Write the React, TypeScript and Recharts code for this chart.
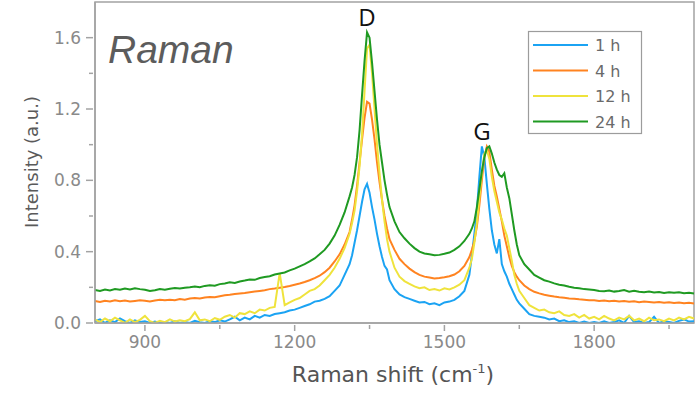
import { LineChart, Line, XAxis, YAxis, ReferenceArea } from "recharts";

// Raman shift sampling (cm-1); denser around the D and G bands
const ramanShift = [
  800, 810, 820, 830, 840, 850, 860, 870, 880, 890,
  900, 910, 920, 930, 940, 950, 960, 970, 980, 990,
  1000, 1010, 1020, 1030, 1040, 1050, 1060, 1070, 1080, 1090,
  1100, 1110, 1120, 1130, 1140, 1150, 1160, 1170, 1180, 1190,
  1200, 1210, 1220, 1230, 1240, 1250, 1260, 1270, 1280, 1290,
  1300, 1310,
  1315, 1320, 1325, 1330, 1335, 1340, 1345, 1350, 1355, 1360, 1365, 1370, 1375, 1380, 1385,
  1390, 1400, 1410, 1420, 1430, 1440, 1450, 1460, 1470, 1480, 1490, 1500, 1510, 1520, 1530, 1540, 1550,
  1555, 1560, 1565, 1570, 1575, 1580, 1585, 1590, 1595, 1600,
  1605, 1610, 1615, 1620, 1625, 1630, 1635, 1640, 1645, 1650,
  1660, 1670, 1680, 1690, 1700, 1710, 1720, 1730, 1740, 1750,
  1760, 1770, 1780, 1790, 1800, 1810, 1820, 1830, 1840, 1850,
  1860, 1870, 1880, 1890, 1900, 1910, 1920, 1930, 1940, 1950,
  1960, 1970, 1980, 1990, 2000,
];

const h1 = [
  0.01, 0.02, 0, 0.015, 0.005, 0.025, 0.01, 0, 0.015, 0.005,
  0.01, 0, 0.008, 0, 0.005, 0, 0.01, 0, 0.006, 0,
  0.012, 0.004, 0, 0.01, 0.005, 0.015, 0.008, 0.02, 0.035, 0.015,
  0.03, 0.02, 0.04, 0.03, 0.045, 0.04, 0.05, 0.055, 0.06, 0.07,
  0.075, 0.085, 0.095, 0.105, 0.12, 0.125, 0.135, 0.15, 0.18, 0.21,
  0.27, 0.33,
  0.38, 0.45, 0.52, 0.6, 0.68, 0.75, 0.78, 0.73, 0.65, 0.58, 0.5, 0.43, 0.37, 0.32, 0.3,
  0.24, 0.19, 0.16, 0.145, 0.135, 0.125, 0.115, 0.118, 0.105, 0.11, 0.1, 0.115, 0.12, 0.13, 0.15, 0.18, 0.27,
  0.38, 0.5, 0.63, 0.82, 0.99, 0.93, 0.78, 0.64, 0.52, 0.44,
  0.39, 0.47, 0.33, 0.29, 0.26, 0.22, 0.19, 0.16, 0.13, 0.11,
  0.08, 0.05, 0.04, 0.035, 0.03, 0.02, 0.025, 0.01, 0.015, 0.005,
  0.01, 0, 0.008, 0, 0.005, 0, 0.01, 0, 0.005, 0.015,
  0, 0.04, 0.005, 0.01, 0, 0.005, 0.035, 0, 0.01, 0.005,
  0, 0.012, 0.02, 0.008, 0.01,
];

const h4 = [
  0.123, 0.118, 0.125, 0.121, 0.127, 0.122, 0.126, 0.12, 0.124, 0.128,
  0.125, 0.121, 0.126, 0.13, 0.127, 0.131, 0.128, 0.134, 0.131, 0.137,
  0.14, 0.137, 0.143, 0.146, 0.144, 0.15, 0.155, 0.158, 0.162, 0.165,
  0.168, 0.172, 0.176, 0.18, 0.184, 0.19, 0.193, 0.198, 0.202, 0.208,
  0.215, 0.222, 0.23, 0.24, 0.252, 0.265, 0.285, 0.31, 0.345, 0.385,
  0.44, 0.51,
  0.58, 0.66, 0.77, 0.9, 1.03, 1.15, 1.24, 1.23, 1.14, 1.03, 0.9, 0.79, 0.69, 0.6, 0.53,
  0.47, 0.41, 0.36, 0.33, 0.305, 0.285, 0.27, 0.26, 0.255, 0.25, 0.252, 0.256, 0.262, 0.272, 0.29, 0.32, 0.37,
  0.41, 0.46, 0.54, 0.66, 0.8, 0.93, 0.99, 0.96, 0.86, 0.77,
  0.71, 0.64, 0.57, 0.49, 0.43, 0.37, 0.32, 0.285, 0.26, 0.24,
  0.21, 0.19, 0.175, 0.166, 0.158, 0.153, 0.148, 0.144, 0.141, 0.138,
  0.136, 0.133, 0.131, 0.128, 0.127, 0.124, 0.126, 0.122, 0.125, 0.12,
  0.123, 0.119, 0.122, 0.117, 0.12, 0.118, 0.115, 0.118, 0.114, 0.116,
  0.112, 0.115, 0.111, 0.113, 0.11,
];

const h12 = [
  0.02, 0.005, 0.025, 0.01, 0.03, 0.015, 0, 0.02, 0.005, 0.018,
  0.04, 0.01, 0, 0.012, 0.005, 0.02, 0.008, 0.015, 0.01, 0.022,
  0.06, 0.015, 0.02, 0.01, 0.028, 0.018, 0.035, 0.045, 0.03, 0.055,
  0.05, 0.065, 0.055, 0.075, 0.07, 0.085, 0.09, 0.28, 0.1, 0.115,
  0.13, 0.14, 0.16, 0.18, 0.19, 0.21, 0.24, 0.27, 0.31, 0.36,
  0.42, 0.5,
  0.56, 0.63, 0.74, 0.88, 1.06, 1.3, 1.54, 1.56, 1.4, 1.2, 1.0, 0.84, 0.69, 0.57, 0.47,
  0.4, 0.31, 0.26, 0.235, 0.22, 0.205, 0.195, 0.2, 0.185, 0.19, 0.182, 0.195, 0.188, 0.2, 0.215, 0.24, 0.31,
  0.36, 0.45, 0.56, 0.7, 0.84, 0.95, 0.97, 0.92, 0.82, 0.74,
  0.68, 0.62, 0.58, 0.53, 0.49, 0.42, 0.35, 0.27, 0.22, 0.18,
  0.14, 0.1, 0.085, 0.07, 0.075, 0.06, 0.055, 0.065, 0.045, 0.04,
  0.05, 0.03, 0.045, 0.025, 0.035, 0.02, 0.04, 0.025, 0.015, 0.03,
  0.02, 0.04, 0.015, 0.025, 0.01, 0.03, 0.015, 0.02, 0.01, 0.025,
  0.015, 0.03, 0.02, 0.035, 0.025,
];

const h24 = [
  0.185, 0.18, 0.188, 0.183, 0.19, 0.186, 0.193, 0.188, 0.195, 0.19,
  0.186, 0.18, 0.184, 0.19, 0.187, 0.192, 0.196, 0.193, 0.198, 0.201,
  0.205, 0.2, 0.208, 0.212, 0.209, 0.218, 0.222, 0.228, 0.225, 0.233,
  0.238, 0.244, 0.242, 0.252, 0.258, 0.262, 0.272, 0.278, 0.283, 0.295,
  0.305, 0.318, 0.33, 0.345, 0.362, 0.385, 0.41, 0.445, 0.49, 0.55,
  0.62, 0.71,
  0.76, 0.83, 0.93, 1.08, 1.28, 1.47, 1.63, 1.6, 1.46, 1.3, 1.14, 1.0, 0.9, 0.8, 0.72,
  0.65, 0.57, 0.51, 0.475, 0.445, 0.42, 0.4, 0.39, 0.385, 0.38, 0.382, 0.388, 0.395, 0.41, 0.43, 0.46, 0.5,
  0.53, 0.57, 0.65, 0.75, 0.85, 0.93, 0.98, 0.99, 0.95, 0.9,
  0.86, 0.83, 0.82, 0.84, 0.76, 0.7, 0.61, 0.52, 0.44, 0.38,
  0.33, 0.3, 0.27, 0.255, 0.24, 0.232, 0.222, 0.215, 0.21, 0.203,
  0.198, 0.195, 0.19, 0.188, 0.185, 0.18, 0.178, 0.182, 0.176, 0.18,
  0.185, 0.176, 0.181, 0.175, 0.172, 0.176, 0.171, 0.174, 0.168, 0.172,
  0.169, 0.173, 0.167, 0.17, 0.165,
];

const SERIES = [
  { key: "h1", name: "1 h", color: "#1ba3f3" },
  { key: "h4", name: "4 h", color: "#ff8320" },
  { key: "h12", name: "12 h", color: "#efe33c" },
  { key: "h24", name: "24 h", color: "#1f9a22" },
];

const X_TICKS = [900, 1050, 1200, 1350, 1500, 1650, 1800, 1950];
const X_MAJOR = [900, 1200, 1500, 1800];
const Y_TICKS = [0, 0.2, 0.4, 0.6, 0.8, 1, 1.2, 1.4, 1.6];

const AXIS = "#a3a3a3";
const TICK_TEXT = "#8a8a8a";
const FONT = "'DejaVu Sans', sans-serif";

const data = ramanShift.map((x, i) => ({
  x,
  h1: h1[i],
  h4: h4[i],
  h12: h12[i],
  h24: h24[i],
}));

function XTick({ x, y, payload }: any) {
  const major = X_MAJOR.includes(payload.value);
  return (
    <g>
      <line x1={x} x2={x} y1={y} y2={y + (major ? 6 : 4)} stroke={AXIS} strokeWidth={1.5} />
      {major && (
        <text x={x} y={y + 23} textAnchor="middle" fill={TICK_TEXT} fontSize={17} fontFamily={FONT}>
          {payload.value}
        </text>
      )}
    </g>
  );
}

function YTick({ x, y, payload }: any) {
  const major = Math.round(payload.value * 10) % 4 === 0;
  return (
    <g>
      <line x1={x - (major ? 7 : 4)} x2={x} y1={y} y2={y} stroke={AXIS} strokeWidth={1.5} />
      {major && (
        <text x={x - 12} y={y + 6} textAnchor="end" fill={TICK_TEXT} fontSize={17} fontFamily={FONT}>
          {payload.value.toFixed(1)}
        </text>
      )}
    </g>
  );
}

export default function App() {
  return (
    <div style={{ position: "absolute", left: 0, top: 0, width: 697, height: 398, background: "#fff" }}>
      <LineChart width={697} height={398} data={data} margin={{ top: 2, right: 3, left: 0, bottom: 0 }}>
        <XAxis
          dataKey="x"
          type="number"
          domain={[800, 2000]}
          ticks={X_TICKS}
          tick={<XTick />}
          tickLine={false}
          tickSize={0}
          height={75}
          stroke={AXIS}
          strokeWidth={1.5}
          interval={0}
        />
        <YAxis
          type="number"
          domain={[0, 1.8]}
          ticks={Y_TICKS}
          tick={<YTick />}
          tickLine={false}
          tickSize={0}
          width={95}
          stroke={AXIS}
          strokeWidth={1.5}
          interval={0}
          allowDataOverflow
        />
        <ReferenceArea x1={800} x2={2000} y1={0} y2={1.8} fill="none" stroke={AXIS} strokeWidth={1.5} />
        {SERIES.map((s) => (
          <Line
            key={s.key}
            dataKey={s.key}
            name={s.name}
            stroke={s.color}
            strokeWidth={2}
            dot={false}
            type="linear"
            isAnimationActive={false}
          />
        ))}
      </LineChart>
      <svg
        width={697}
        height={398}
        style={{ position: "absolute", left: 0, top: 0, pointerEvents: "none" }}
      >
        <text x={108} y={63} fontSize={39} fontStyle="italic" fill="#5c5c5c" fontFamily="'Liberation Sans', Arial, sans-serif">
          Raman
        </text>
        <text x={367} y={26} textAnchor="middle" fontSize={24} fill="#111" fontFamily="'Open Sans', sans-serif">
          D
        </text>
        <text x={482} y={140} textAnchor="middle" fontSize={24} fill="#111" fontFamily="'Open Sans', sans-serif">
          G
        </text>
        <text
          transform="translate(38,162) rotate(-90)"
          textAnchor="middle"
          fontSize={18}
          fill="#5a5a5a"
          fontFamily={FONT}
        >
          Intensity (a.u.)
        </text>
        <text x={393} y={382} textAnchor="middle" fontSize={22} fill="#555" fontFamily={FONT}>
          Raman shift (cm
          <tspan fontSize={13} dy={-9}>-1</tspan>
          <tspan dy={9}>)</tspan>
        </text>
        <rect x={528.5} y={31.5} width={113} height={102} fill="#fff" stroke="#9c9c9c" strokeWidth={1.2} />
        {SERIES.map((s, i) => (
          <g key={s.key}>
            <line x1={533} x2={588} y1={45 + i * 25.5} y2={45 + i * 25.5} stroke={s.color} strokeWidth={2} />
            <text x={595} y={51 + i * 25.5} fontSize={16} fill="#6a6a6a" fontFamily={FONT}>
              {s.name}
            </text>
          </g>
        ))}
      </svg>
    </div>
  );
}
